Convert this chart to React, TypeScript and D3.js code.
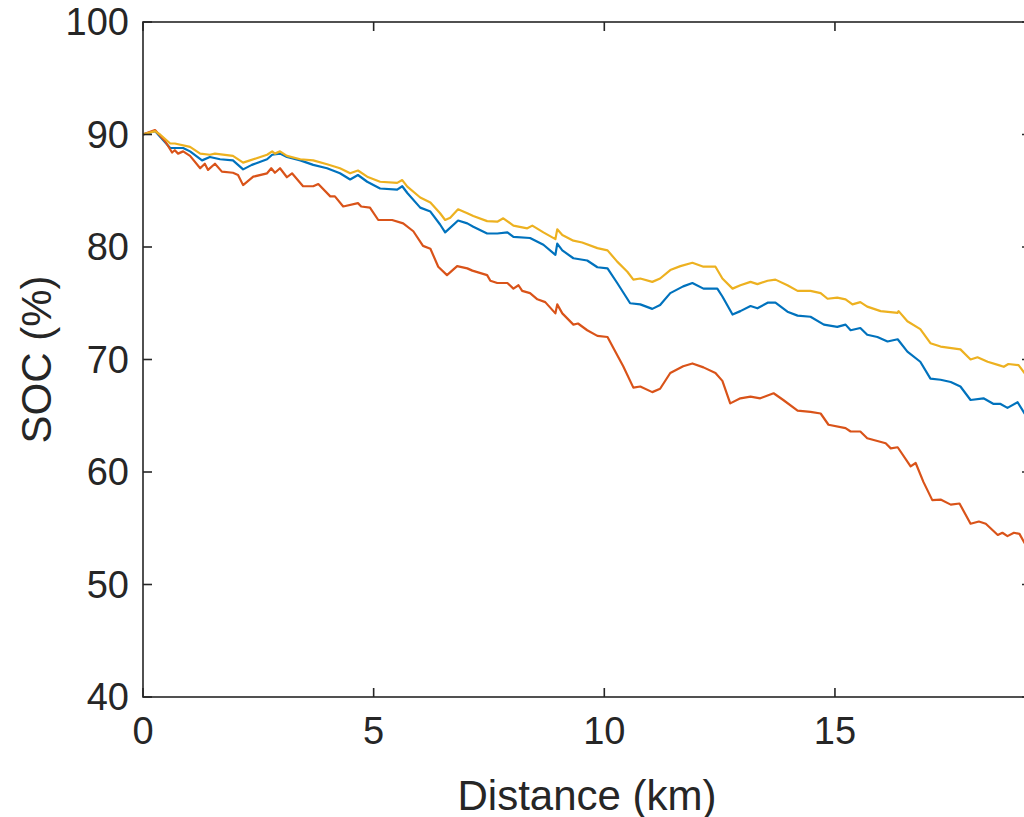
import * as d3 from 'd3';

// series: [distance km, SOC %]
const blueData: [number, number][] = [
  [0, 90.0], [0.26, 90.3], [0.59, 88.8], [0.87, 88.8], [1.02, 88.5], [1.28, 87.7], [1.45, 88.0], [1.67, 87.8],
  [1.95, 87.7], [2.17, 86.9], [2.36, 87.3], [2.69, 87.8], [2.8, 88.2], [2.97, 88.3], [3.12, 88.0], [3.41, 87.7],
  [3.69, 87.3], [3.99, 87.0], [4.27, 86.55], [4.49, 86.0], [4.66, 86.4], [4.86, 85.8], [5.14, 85.2], [5.51, 85.1],
  [5.62, 85.4], [5.73, 84.8], [6.01, 83.5], [6.23, 83.15], [6.44, 82.0], [6.55, 81.3], [6.83, 82.35], [7.03, 82.1],
  [7.16, 81.8], [7.46, 81.2], [7.68, 81.2], [7.9, 81.3], [8.03, 80.9], [8.39, 80.8], [8.68, 80.2], [8.94, 79.3],
  [8.98, 80.3], [9.09, 79.7], [9.33, 79.0], [9.63, 78.8], [9.85, 78.2], [10.07, 78.1], [10.28, 76.8], [10.56, 75.0],
  [10.78, 74.9], [11.04, 74.5], [11.21, 74.85], [11.43, 75.9], [11.71, 76.5], [11.91, 76.8], [12.15, 76.3], [12.45, 76.3],
  [12.56, 75.6], [12.78, 74.0], [12.95, 74.3], [13.17, 74.75], [13.32, 74.55], [13.54, 75.05], [13.71, 75.05], [13.97, 74.25],
  [14.19, 73.9], [14.47, 73.8], [14.76, 73.1], [15.05, 72.9], [15.23, 73.1], [15.34, 72.6], [15.55, 72.8], [15.7, 72.2],
  [15.92, 72.0], [16.14, 71.6], [16.36, 71.8], [16.57, 70.7], [16.85, 69.8], [17.07, 68.3], [17.29, 68.2], [17.51, 68.0],
  [17.72, 67.6], [17.94, 66.4], [18.22, 66.55], [18.44, 66.05], [18.59, 66.05], [18.74, 65.7], [18.96, 66.2], [19.11, 65.2],
];

const redData: [number, number][] = [
  [0, 90.0], [0.26, 90.4], [0.48, 89.4], [0.63, 88.4], [0.69, 88.6], [0.76, 88.3], [0.87, 88.5], [1.02, 88.1],
  [1.24, 87.0], [1.34, 87.4], [1.41, 86.85], [1.56, 87.4], [1.71, 86.7], [1.95, 86.6], [2.06, 86.4], [2.17, 85.5],
  [2.39, 86.25], [2.69, 86.55], [2.78, 87.0], [2.86, 86.6], [2.97, 87.0], [3.12, 86.2], [3.23, 86.55], [3.47, 85.4],
  [3.69, 85.4], [3.8, 85.6], [4.06, 84.5], [4.16, 84.5], [4.34, 83.6], [4.66, 83.9], [4.73, 83.6], [4.92, 83.5],
  [5.1, 82.4], [5.4, 82.4], [5.64, 82.1], [5.86, 81.4], [6.07, 80.1], [6.23, 79.85], [6.4, 78.25], [6.59, 77.5],
  [6.81, 78.3], [7.03, 78.1], [7.14, 77.9], [7.46, 77.5], [7.53, 77.0], [7.68, 76.8], [7.9, 76.8], [8.03, 76.3],
  [8.14, 76.6], [8.22, 76.1], [8.39, 75.9], [8.55, 75.35], [8.72, 75.1], [8.94, 74.1], [8.98, 74.9], [9.09, 74.1],
  [9.33, 73.1], [9.43, 73.2], [9.63, 72.6], [9.85, 72.1], [10.07, 72.0], [10.2, 71.0], [10.41, 69.4], [10.63, 67.5],
  [10.78, 67.6], [11.04, 67.1], [11.21, 67.4], [11.43, 68.8], [11.71, 69.4], [11.91, 69.65], [12.15, 69.3], [12.41, 68.8],
  [12.56, 68.1], [12.73, 66.1], [12.95, 66.55], [13.17, 66.7], [13.38, 66.55], [13.67, 67.0], [13.88, 66.4], [14.19, 65.45],
  [14.47, 65.35], [14.69, 65.2], [14.86, 64.2], [15.23, 63.9], [15.34, 63.6], [15.55, 63.6], [15.7, 63.0], [15.92, 62.75],
  [16.1, 62.55], [16.21, 62.1], [16.36, 62.2], [16.64, 60.5], [16.75, 60.8], [16.92, 59.1], [17.11, 57.5], [17.29, 57.55],
  [17.51, 57.1], [17.7, 57.2], [17.94, 55.4], [18.12, 55.6], [18.27, 55.4], [18.53, 54.4], [18.63, 54.6], [18.74, 54.3],
  [18.88, 54.6], [19.0, 54.5], [19.11, 53.7],
];

const yellowData: [number, number][] = [
  [0, 90.0], [0.26, 90.3], [0.37, 90.0], [0.59, 89.2], [0.69, 89.2], [1.02, 88.9], [1.24, 88.3], [1.45, 88.2],
  [1.56, 88.3], [1.95, 88.1], [2.17, 87.5], [2.32, 87.7], [2.69, 88.2], [2.8, 88.5], [2.86, 88.3], [2.97, 88.5],
  [3.12, 88.1], [3.41, 87.8], [3.69, 87.7], [3.99, 87.35], [4.27, 87.0], [4.49, 86.55], [4.66, 86.8], [4.86, 86.25],
  [5.14, 85.8], [5.51, 85.7], [5.62, 85.95], [5.73, 85.36], [6.01, 84.4], [6.23, 83.95], [6.44, 83.0], [6.55, 82.4],
  [6.66, 82.6], [6.83, 83.35], [7.03, 83.0], [7.16, 82.75], [7.46, 82.3], [7.68, 82.25], [7.81, 82.55], [8.03, 81.9],
  [8.33, 81.66], [8.44, 81.9], [8.68, 81.3], [8.94, 80.7], [8.98, 81.57], [9.09, 81.07], [9.33, 80.56], [9.52, 80.4],
  [9.85, 79.9], [10.07, 79.7], [10.28, 78.7], [10.5, 77.8], [10.63, 77.1], [10.78, 77.2], [11.04, 76.9], [11.21, 77.2],
  [11.43, 77.95], [11.65, 78.3], [11.91, 78.6], [12.15, 78.25], [12.41, 78.25], [12.56, 77.2], [12.78, 76.3], [12.95, 76.6],
  [13.17, 76.9], [13.32, 76.7], [13.54, 77.0], [13.71, 77.1], [13.97, 76.6], [14.19, 76.1], [14.47, 76.1], [14.69, 75.9],
  [14.84, 75.4], [15.05, 75.5], [15.23, 75.35], [15.38, 74.9], [15.55, 75.1], [15.7, 74.7], [15.99, 74.3], [16.36, 74.15],
  [16.38, 74.3], [16.57, 73.4], [16.85, 72.7], [17.07, 71.45], [17.29, 71.15], [17.72, 70.9], [17.94, 70.0], [18.09, 70.2],
  [18.31, 69.8], [18.55, 69.5], [18.66, 69.35], [18.76, 69.6], [18.98, 69.5], [19.11, 68.8],
];

const xTicks = [0, 5, 10, 15];
const yTicks = [40, 50, 60, 70, 80, 90, 100];

const series = [
  { data: blueData, color: '#0072BD' },
  { data: redData, color: '#D95319' },
  { data: yellowData, color: '#EDB120' },
];

const W = 1024;
const H = 817;
const left = 143, right = 1031, top = 22, bottom = 697;
const font = '"Liberation Sans", Arial, Helvetica, sans-serif';
const axisColor = '#262626';
const tickLen = 9;

export default function App() {
  const x = d3.scaleLinear().domain([0, 19.25]).range([left, right]);
  const y = d3.scaleLinear().domain([40, 100]).range([bottom, top]);
  const line = d3.line<[number, number]>()
    .x(d => x(d[0]))
    .y(d => y(d[1]));

  return (
    <svg width={W} height={H} style={{ position: 'absolute', left: 0, top: 0, background: '#fff' }}>
      <defs>
        <clipPath id="plotArea">
          <rect x={left} y={top} width={right - left} height={bottom - top} />
        </clipPath>
      </defs>
      <rect x={0} y={0} width={W} height={H} fill="#fff" />

      <g clipPath="url(#plotArea)">
        {series.map((s, i) => (
          <path key={i} d={line(s.data) ?? ''} fill="none" stroke={s.color} strokeWidth={2.2}
            strokeLinejoin="round" strokeLinecap="round" />
        ))}
      </g>

      {/* box */}
      <rect x={left} y={top} width={right - left} height={bottom - top} fill="none"
        stroke={axisColor} strokeWidth={1.6} />

      {xTicks.map(t => (
        <g key={'x' + t}>
          <line x1={x(t)} x2={x(t)} y1={bottom} y2={bottom - tickLen} stroke={axisColor} strokeWidth={1.6} />
          <line x1={x(t)} x2={x(t)} y1={top} y2={top + tickLen} stroke={axisColor} strokeWidth={1.6} />
          <text x={x(t)} y={bottom + 34} textAnchor="middle" dominantBaseline="central"
            fontFamily={font} fontSize={38} fill={axisColor}>{t}</text>
        </g>
      ))}

      {yTicks.map(t => (
        <g key={'y' + t}>
          <line x1={left} x2={left + tickLen} y1={y(t)} y2={y(t)} stroke={axisColor} strokeWidth={1.6} />
          <line x1={right} x2={right - tickLen} y1={y(t)} y2={y(t)} stroke={axisColor} strokeWidth={1.6} />
          <text x={left - 14} y={y(t)} textAnchor="end" dominantBaseline="central"
            fontFamily={font} fontSize={38} fill={axisColor}>{t}</text>
        </g>
      ))}

      <text x={(left + right) / 2} y={795} textAnchor="middle" dominantBaseline="central"
        fontFamily={font} fontSize={42} fill={axisColor}>Distance (km)</text>
      <text transform={`translate(36, ${(top + bottom) / 2}) rotate(-90)`} textAnchor="middle"
        dominantBaseline="central" fontFamily={font} fontSize={42} fill={axisColor}>SOC (%)</text>
    </svg>
  );
}
